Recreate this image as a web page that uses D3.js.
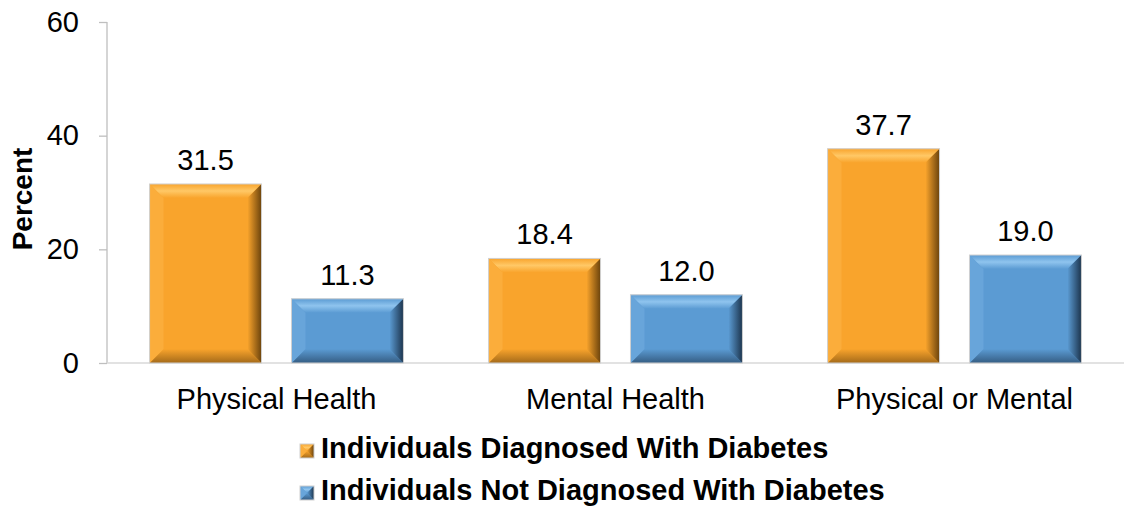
<!DOCTYPE html>
<html>
<head>
<meta charset="utf-8">
<script src="https://cdn.jsdelivr.net/npm/d3@7/dist/d3.min.js"></script>
<style>
  html, body { margin: 0; padding: 0; background: #fff; }
  svg { display: block; font-family: "Liberation Sans", Arial, sans-serif; }
</style>
</head>
<body>
<svg id="chart" width="1124" height="508"></svg>
<script>
// Share of adults reporting frequent distress, by diabetes status
const categories = ["Physical Health", "Mental Health", "Physical or Mental"];
const seriesNames = ["Individuals Diagnosed With Diabetes", "Individuals Not Diagnosed With Diabetes"];
const diagnosed = [31.5, 18.4, 37.7];
const notDiagnosed = [11.3, 12.0, 19.0];
const yTicks = [0, 20, 40, 60];

const seriesValues = [diagnosed, notDiagnosed];
const palette = [
  { base: "#F9A42C", light: "#FFC866", dark: "#6B430C" },
  { base: "#5B9BD3", light: "#8FC4EE", dark: "#1C344D" }
];

const svg = d3.select("#chart");
const margin = { left: 107, right: 0, top: 22, bottom: 145 };
const W = 1124, H = 508;
const FS = 29;

const x0 = d3.scaleBand().domain(categories).range([margin.left, W - margin.right]).paddingInner(0).paddingOuter(0);
const x1 = d3.scaleBand().domain([0, 1]).range([0, x0.bandwidth()]).paddingInner(0.211).paddingOuter(0.3);
const y = d3.scaleLinear().domain([0, 60]).range([H - margin.bottom, margin.top]);

const defs = svg.append("defs");
palette.forEach((p, i) => {
  const gr = defs.append("linearGradient").attr("id", "right" + i).attr("x1", 0).attr("x2", 1).attr("y1", 0).attr("y2", 0);
  gr.append("stop").attr("offset", 0).attr("stop-color", p.base);
  gr.append("stop").attr("offset", 1).attr("stop-color", p.dark);
  const gt = defs.append("linearGradient").attr("id", "top" + i).attr("x1", 0).attr("x2", 0).attr("y1", 0).attr("y2", 1);
  gt.append("stop").attr("offset", 0).attr("stop-color", p.base);
  gt.append("stop").attr("offset", 0.5).attr("stop-color", p.light);
  gt.append("stop").attr("offset", 1).attr("stop-color", p.base);
  const gb = defs.append("linearGradient").attr("id", "bottom" + i).attr("x1", 0).attr("x2", 0).attr("y1", 0).attr("y2", 1);
  gb.append("stop").attr("offset", 0).attr("stop-color", p.base);
  gb.append("stop").attr("offset", 1).attr("stop-color", d3.interpolateRgb(p.base, p.dark)(0.6));
});

// Y axis
const yAxis = svg.append("g").attr("transform", `translate(${margin.left},0)`)
  .call(d3.axisLeft(y).tickValues(yTicks).tickSize(8).tickPadding(20).tickFormat(d3.format("d")));
yAxis.select(".domain").attr("stroke", "#BFBFBF").attr("stroke-width", 1.3).attr("d", `M0,${y(60)}V${y(0)}`);
yAxis.selectAll(".tick line").attr("stroke", "#BFBFBF").attr("stroke-width", 1.3);
yAxis.selectAll(".tick text").attr("font-size", FS).attr("fill", "#000").attr("font-family", "Liberation Sans, Arial, sans-serif");

// Baseline
svg.append("line").attr("x1", margin.left).attr("x2", W).attr("y1", y(0)).attr("y2", y(0))
  .attr("stroke", "#D9D9D9").attr("stroke-width", 1.5);

// Axis title
svg.append("text").attr("transform", `translate(32,199) rotate(-90)`)
  .attr("text-anchor", "middle").attr("font-size", 28).attr("font-weight", "bold").text("Percent");

// Bevelled box drawn as a base rectangle plus four edge facets
function bevelBox(g, bx, by, bw, bh, i, b) {
  b = Math.min(b, bw / 2, bh / 2);
  const p = palette[i];
  g.append("rect").attr("x", bx).attr("y", by).attr("width", bw).attr("height", bh).attr("fill", p.base);
  const pts = a => a.map(q => q.join(",")).join(" ");
  g.append("polygon").attr("points", pts([[bx, by], [bx + bw, by], [bx + bw - b, by + b], [bx + b, by + b]])).attr("fill", `url(#top${i})`);
  g.append("polygon").attr("points", pts([[bx, by + bh], [bx + bw, by + bh], [bx + bw - b, by + bh - b], [bx + b, by + bh - b]])).attr("fill", `url(#bottom${i})`);
  g.append("polygon").attr("points", pts([[bx, by], [bx + b, by + b], [bx + b, by + bh - b], [bx, by + bh]]))
    .attr("fill", d3.interpolateRgb(p.base, p.light)(0.25));
  g.append("polygon").attr("points", pts([[bx + bw, by], [bx + bw - b, by + b], [bx + bw - b, by + bh - b], [bx + bw, by + bh]])).attr("fill", `url(#right${i})`);
  g.append("rect").attr("x", bx).attr("y", by).attr("width", bw).attr("height", bh)
    .attr("fill", "none").attr("stroke", "#D0D0D0").attr("stroke-width", 1);
}

// Bars and value labels
categories.forEach((c, ci) => {
  seriesValues.forEach((vals, si) => {
    const v = vals[ci];
    const bx = x0(c) + x1(si);
    const bw = x1.bandwidth();
    const g = svg.append("g");
    bevelBox(g, bx, y(v), bw, y(0) - y(v), si, 14);
    svg.append("text").attr("x", bx + bw / 2).attr("y", y(v) - 14).attr("text-anchor", "middle")
      .attr("font-size", FS).attr("fill", "#000").text(v.toFixed(1));
  });
  svg.append("text").attr("x", x0(c) + x0.bandwidth() / 2).attr("y", 409).attr("text-anchor", "middle")
    .attr("font-size", FS).attr("fill", "#000").text(c);
});

// Legend
const legend = svg.append("g");
seriesNames.forEach((name, i) => {
  const base = 458 + i * 42;
  bevelBox(legend.append("g"), 300, base - 14, 14, 14, i, 7);
  legend.append("text").attr("x", 321).attr("y", base).attr("font-size", FS).attr("font-weight", "bold").text(name);
});
</script>
</body>
</html>
